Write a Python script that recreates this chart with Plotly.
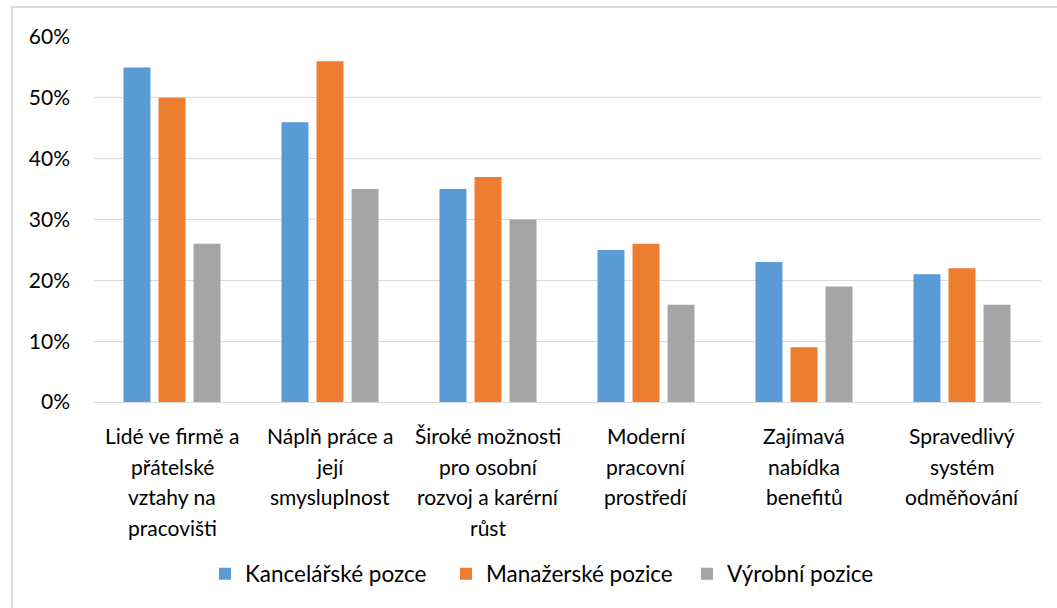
import plotly.graph_objects as go

categories = [
    "Lidé ve firmě a<br>přátelské<br>vztahy na<br>pracovišti",
    "Náplň práce a<br>její<br>smysluplnost",
    "Široké možnosti<br>pro osobní<br>rozvoj a karérní<br>růst",
    "Moderní<br>pracovní<br>prostředí",
    "Zajímavá<br>nabídka<br>benefitů",
    "Spravedlivý<br>systém<br>odměňování",
]
kancelarske = [0.55, 0.46, 0.35, 0.25, 0.23, 0.21]
manazerske = [0.50, 0.56, 0.37, 0.26, 0.09, 0.22]
vyrobni = [0.26, 0.35, 0.30, 0.16, 0.19, 0.16]
series_names = ["Kancelářské pozce", "Manažerské pozice", "Výrobní pozice"]
colors = ["#5b9bd5", "#ed7d31", "#a5a5a5"]
y_ticks = [0, 0.1, 0.2, 0.3, 0.4, 0.5, 0.6]

FONT = "Lato"
W, H = 1057, 608
L, R, T, B = 93, 16, 37, 206

fig = go.Figure()
for name, vals, c in zip(series_names, [kancelarske, manazerske, vyrobni], colors):
    fig.add_trace(go.Bar(x=list(range(len(categories))), y=vals, name=name,
                         marker=dict(color=c, line=dict(width=0))))

# category labels as annotations with Excel-like line spacing
annotations = []
for i, cat in enumerate(categories):
    for j, line in enumerate(cat.split("<br>")):
        annotations.append(dict(x=i, y=0, xref="x", yref="paper", text=line,
                                showarrow=False, yanchor="top", xanchor="center",
                                yshift=-19 - 30.5 * j,
                                font=dict(family=FONT, size=21, color="#000000")))

pw = W - L - R
ph = H - T - B
fig.update_layout(
    width=W, height=H,
    margin=dict(l=L, r=R, t=T, b=B),
    paper_bgcolor="white", plot_bgcolor="white",
    barmode="group", bargap=0.335, bargroupgap=0.23,
    font=dict(family=FONT, size=21, color="#000000"),
    xaxis=dict(showticklabels=False, showgrid=False, zeroline=False,
               showline=False, ticks="", range=[-0.5, 5.5]),
    yaxis=dict(range=[0, 0.6], tickvals=y_ticks, tickformat=".0%",
               showgrid=True, gridcolor="#d9d9d9", gridwidth=1,
               zeroline=True, zerolinecolor="#d9d9d9", zerolinewidth=1,
               showline=False, ticks="", ticklabelstandoff=22,
               tickfont=dict(family=FONT, size=21, color="#000000")),
    legend=dict(orientation="h", x=(205 - L) / pw, xanchor="left", y=-(574 - 402) / ph,
                yanchor="middle", font=dict(family=FONT, size=22.5, color="#000000"),
                itemwidth=30, entrywidth=196, entrywidthmode="pixels",
                traceorder="normal", itemclick=False),
    annotations=annotations,
    shapes=[dict(type="rect", xref="paper", yref="paper",
                 x0=(12 - L) / pw, x1=(W + 20 - L) / pw,
                 y0=-(H + 20 - T - ph) / ph - 0.2, y1=1 + (T - 7) / ph,
                 line=dict(color="#d9d9d9", width=2), fillcolor="rgba(0,0,0,0)",
                 layer="below")],
    showlegend=True,
)

fig.write_html("out.html", config={"displayModeBar": False},
               post_script="document.body.style.margin='0';document.body.style.overflow='hidden';")
